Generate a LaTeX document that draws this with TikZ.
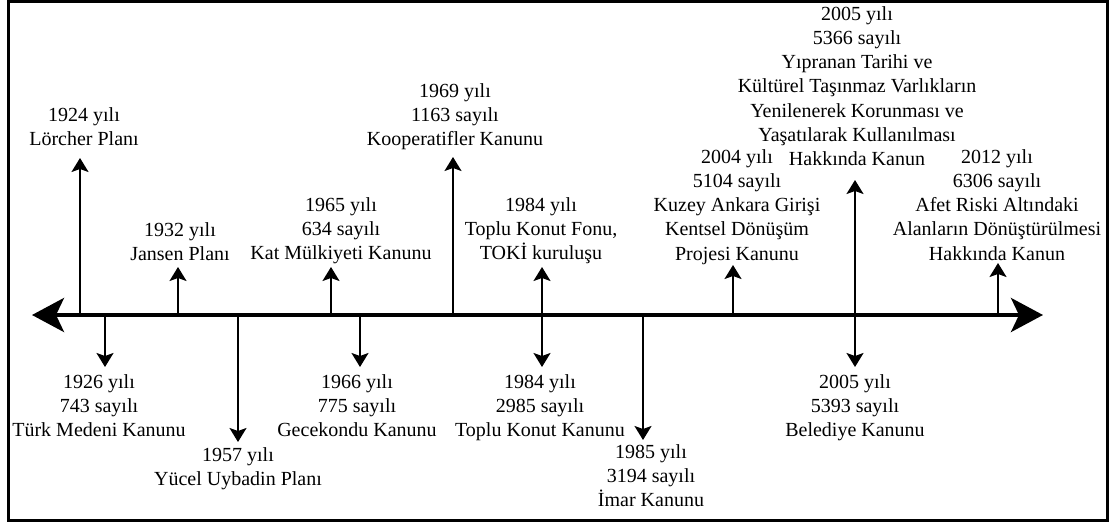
\documentclass[tikz,border=0pt]{standalone}
\usepackage{fontspec}
\setmainfont{Liberation Serif}
\usetikzlibrary{arrows.meta}
\begin{document}
\begin{tikzpicture}[x=1pt,y=-1pt,
  lbl/.style={align=center,inner sep=0pt,anchor=north,font=\fontsize{20}{24.3}\selectfont},
  ev/.style={line width=1.8pt,-{Stealth[length=14pt,width=17pt,inset=3pt]}},
  evboth/.style={line width=1.8pt,{Stealth[length=14pt,width=17pt,inset=3pt]}-{Stealth[length=14pt,width=17pt,inset=3pt]}},
  timeaxis/.style={line width=4pt,{Stealth[length=32pt,width=34pt,inset=8pt]}-{Stealth[length=32pt,width=34pt,inset=8pt]}},
  frame/.style={line width=3pt}]
\useasboundingbox (0,0) rectangle (1115,524);
\draw[frame] (8,2) rectangle (1107,520);

% axis
\coordinate (axL) at (32,315);
\coordinate (axR) at (1043,315);
\draw[timeaxis] (axL) -- (axR);

% labels above
\node[lbl] (L1924) at (84,107) {1924 yılı\\Lörcher Planı};
\node[lbl] (L1932) at (180,222) {1932 yılı\\Jansen Planı};
\node[lbl] (L1965) at (341,197) {1965 yılı\\634 sayılı\\Kat Mülkiyeti Kanunu};
\node[lbl] (L1969) at (455,83) {1969 yılı\\1163 sayılı\\Kooperatifler Kanunu};
\node[lbl] (L1984a) at (541,197) {1984 yılı\\Toplu Konut Fonu,\\TOKİ kuruluşu};
\node[lbl] (L2004) at (737,149) {2004 yılı\\5104 sayılı\\Kuzey Ankara Girişi\\Kentsel Dönüşüm\\Projesi Kanunu};
\node[lbl] (L2005a) at (857,6) {2005 yılı\\5366 sayılı\\Yıpranan Tarihi ve\\Kültürel Taşınmaz Varlıkların\\Yenilenerek Korunması ve\\Yaşatılarak Kullanılması\\Hakkında Kanun};
\node[lbl] (L2012) at (997,149) {2012 yılı\\6306 sayılı\\Afet Riski Altındaki\\Alanların Dönüştürülmesi\\Hakkında Kanun};

% labels below
\node[lbl] (L1926) at (99,374) {1926 yılı\\743 sayılı\\Türk Medeni Kanunu};
\node[lbl] (L1957) at (238,447) {1957 yılı\\Yücel Uybadin Planı};
\node[lbl] (L1966) at (357,374) {1966 yılı\\775 sayılı\\Gecekondu Kanunu};
\node[lbl] (L1984b) at (540,374) {1984 yılı\\2985 sayılı\\Toplu Konut Kanunu};
\node[lbl] (L1985) at (651,444) {1985 yılı\\3194 sayılı\\İmar Kanunu};
\node[lbl] (L2005b) at (855,374) {2005 yılı\\5393 sayılı\\Belediye Kanunu};

% axis points and tips
\coordinate (a1924) at (80,315);  \coordinate (t1924) at (80,158);
\coordinate (a1926) at (105,315); \coordinate (t1926) at (105,367);
\coordinate (a1932) at (178,315); \coordinate (t1932) at (178,267);
\coordinate (a1957) at (238,315); \coordinate (t1957) at (238,442);
\coordinate (a1965) at (331,315); \coordinate (t1965) at (331,267);
\coordinate (a1966) at (360,315); \coordinate (t1966) at (360,367);
\coordinate (a1969) at (453,315); \coordinate (t1969) at (453,157);
\coordinate (u1984) at (542,267); \coordinate (d1984) at (542,367);
\coordinate (a1985) at (643,315); \coordinate (t1985) at (643,440);
\coordinate (a2004) at (733,315); \coordinate (t2004) at (733,265);
\coordinate (u2005) at (855,180); \coordinate (d2005) at (855,367);
\coordinate (a2012) at (998,315); \coordinate (t2012) at (998,263);

\draw[ev] (a1924) -- (t1924);
\draw[ev] (a1926) -- (t1926);
\draw[ev] (a1932) -- (t1932);
\draw[ev] (a1957) -- (t1957);
\draw[ev] (a1965) -- (t1965);
\draw[ev] (a1966) -- (t1966);
\draw[ev] (a1969) -- (t1969);
\draw[evboth] (u1984) -- (d1984);
\draw[ev] (a1985) -- (t1985);
\draw[ev] (a2004) -- (t2004);
\draw[evboth] (u2005) -- (d2005);
\draw[ev] (a2012) -- (t2012);
\end{tikzpicture}
\end{document}
